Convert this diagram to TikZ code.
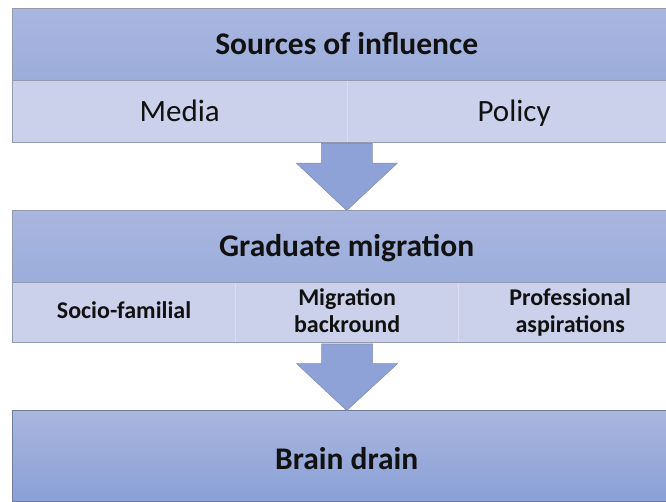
\documentclass[tikz,border=0pt]{standalone}
\usepackage{fontspec}
\setmainfont{Carlito}
\usetikzlibrary{calc}

\definecolor{headtop}{HTML}{A9B6DF}
\definecolor{headbot}{HTML}{9CADDB}
\definecolor{subfill}{HTML}{CBD1EA}
\definecolor{boxline}{HTML}{9499AE}
\definecolor{darkline}{HTML}{6F7B9B}
\definecolor{arrowfill}{HTML}{8EA2D7}
\definecolor{arrowline}{HTML}{8590B2}
\definecolor{celldiv}{HTML}{D9DDEF}
\definecolor{brainbot}{HTML}{8AA0D6}
\definecolor{ink}{HTML}{111111}

% even line height for the two-line cell labels
\newcommand{\cellstrut}{\rule[-5pt]{0pt}{22pt}}

\tikzset{
  headbox/.style={rectangle, inner sep=0pt, minimum width=668pt, minimum height=71.5pt,
    top color=headtop, bottom color=headbot, text=ink,
    text height=25pt, text depth=4pt,
    font=\fontsize{31.5}{36}\selectfont\bfseries},
  cellA/.style={rectangle, inner sep=0pt, minimum width=334pt, minimum height=61.5pt,
    fill=subfill, text=ink, text height=25pt, text depth=4pt,
    font=\fontsize{31}{36}\selectfont},
  cellB/.style={rectangle, inner sep=0pt, minimum width=222.67pt, minimum height=60pt,
    fill=subfill, text=ink, align=center, font=\fontsize{24}{27}\selectfont\bfseries},
  brainbox/.style={rectangle, inner sep=0pt, minimum width=668pt, minimum height=91pt,
    top color=headtop, bottom color=brainbot, text=ink,
    text height=28pt, text depth=2pt,
    font=\fontsize{31.5}{36}\selectfont\bfseries},
  outline/.style={draw=boxline, line width=0.8pt},
  divider/.style={draw=celldiv, line width=0.8pt},
  flow/.style={fill=arrowfill, draw=arrowline, line width=0.6pt, line join=miter},
}

% block arrow from a point on the bottom of one group to the top of the next
\newcommand{\flowarrow}[2]{%
  \draw[flow] ($(#1)+(-25.5pt,-1.2pt)$) -- ($(#1)+(25.5pt,-1.2pt)$)
    -- ($(#1)+(25.5pt,-20.8pt)$) -- ($(#1)+(50.5pt,-20.8pt)$)
    -- (#2) -- ($(#1)+(-50.5pt,-20.8pt)$) -- ($(#1)+(-25.5pt,-20.8pt)$) -- cycle;}

\begin{document}
\begin{tikzpicture}[x=1pt, y=1pt]
\useasboundingbox (0,0) rectangle (666,502);
\clip (0,0) rectangle (666,502);
\fill[white] (0,0) rectangle (666,502);

% sources of influence
\node[headbox, anchor=north west] (soi) at (12.5,493.5) {Sources of influence};
\node[cellA, anchor=north west] (media) at (soi.south west) {Media};
\node[cellA, anchor=north west] (policy) at (media.north east) {Policy};
\draw[divider] (media.north east) -- (media.south east);
\draw[outline] (soi.north west) rectangle (policy.south east);
\draw[outline] (soi.south west) -- (soi.south east);

% graduate migration
\node[headbox, anchor=north west] (grad) at (12.5,291.5) {Graduate migration};
\node[cellB, anchor=north west] (socio) at (grad.south west) {\cellstrut Socio-familial};
\node[cellB, anchor=north west] (migr) at (socio.north east) {\cellstrut Migration\\\cellstrut backround};
\node[cellB, anchor=north west] (prof) at (migr.north east) {\cellstrut Professional\\\cellstrut aspirations};
\draw[divider] (socio.north east) -- (socio.south east);
\draw[divider] (migr.north east) -- (migr.south east);
\draw[outline] (grad.north west) rectangle (prof.south east);
\draw[outline] (grad.south west) -- (grad.south east);

% brain drain
\node[brainbox, anchor=north west] (brain) at (12.5,91.5) {Brain drain};
\draw[outline, draw=darkline] (brain.north west) rectangle (brain.south east);

% connectors
\coordinate (out1) at (media.south east);
\coordinate (out2) at (migr.south);
\flowarrow{out1}{grad.north}
\flowarrow{out2}{brain.north}
\end{tikzpicture}
\end{document}
